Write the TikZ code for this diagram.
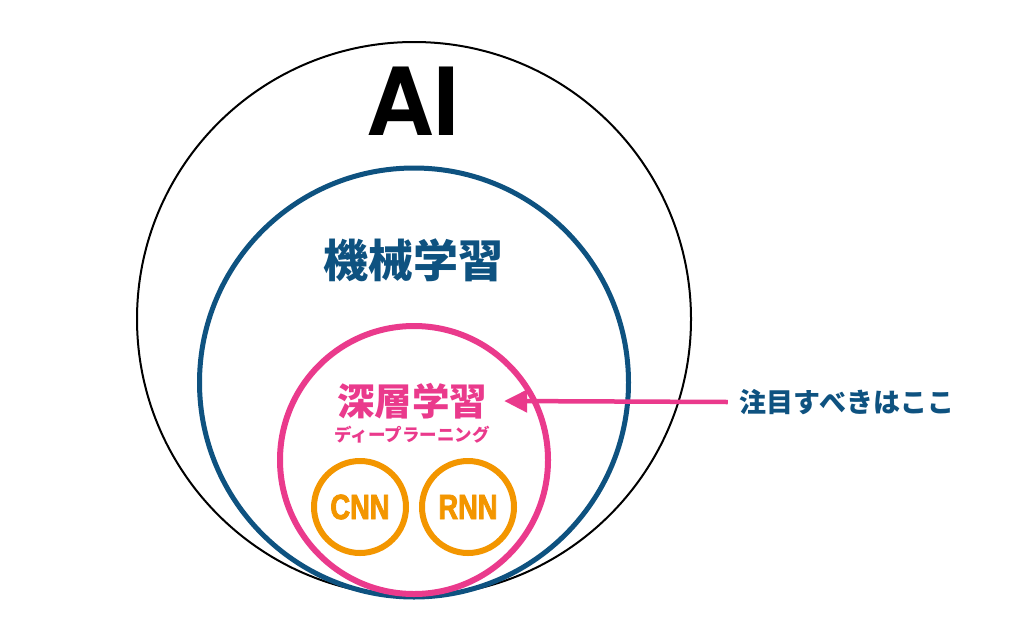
\documentclass[tikz,border=0pt]{standalone}
\usepackage{fontspec}
\usepackage{tikz}
\usetikzlibrary{arrows.meta,positioning,calc}
\setmainfont{TeX Gyre Heros}
\newfontfamily\jpfont{Noto Sans CJK JP}
\newfontfamily\condfont{Liberation Sans Bold}[FakeStretch=0.78,FakeBold=2.5]
\definecolor{mlblue}{RGB}{14,82,128}
\definecolor{dlpink}{RGB}{234,58,140}
\definecolor{netorange}{RGB}{243,150,0}

\begin{document}
\begin{tikzpicture}[x=1pt,y=-1pt,
    ring/.style={circle,draw,inner sep=0pt},
    jp/.style={font=\jpfont\bfseries\fontsize{#1}{#1}\selectfont,inner sep=0pt}]
  \useasboundingbox (0,0) rectangle (1024,640);
  \fill[white] (0,0) rectangle (1024,640);
  \node[ring,line width=2pt,minimum size=554pt] (AI) at (414,319) {};
  \node[ring,draw=mlblue,line width=5pt,minimum size=429pt] (ML) at (414,382.5) {};
  \node[ring,draw=dlpink,line width=6pt,minimum size=268pt] (DL) at (414,460) {};
  \foreach \n/\x in {CNN/360,RNN/468}
    \node[ring,draw=netorange,line width=6pt,minimum size=92pt,text=netorange,
      font=\condfont\fontsize{35}{35}\selectfont] (\n) at (\x,507) {\n};
  \node[anchor=base,inner sep=0pt,font=\bfseries\fontsize{94}{94}\selectfont] (AItext) at (413,135) {AI};
  \node[jp=45,text=mlblue] (MLtext) at (413,260) {機械学習};
  \node[jp=37.5,text=dlpink,inner xsep=17pt] (DLtext) at (412,401) {深層学習};
  \node[jp=17.5,text=dlpink,below=7pt of DLtext] (DLkana) {ディープラーニング};
  \node[jp=27,text=mlblue,inner xsep=12pt] (note) at (847,402) {注目すべきはここ};
  \draw[dlpink,line width=4.5pt,-{Triangle[length=23pt,width=22pt]}] (note.west) -- (DLtext.east);
\end{tikzpicture}
\end{document}
